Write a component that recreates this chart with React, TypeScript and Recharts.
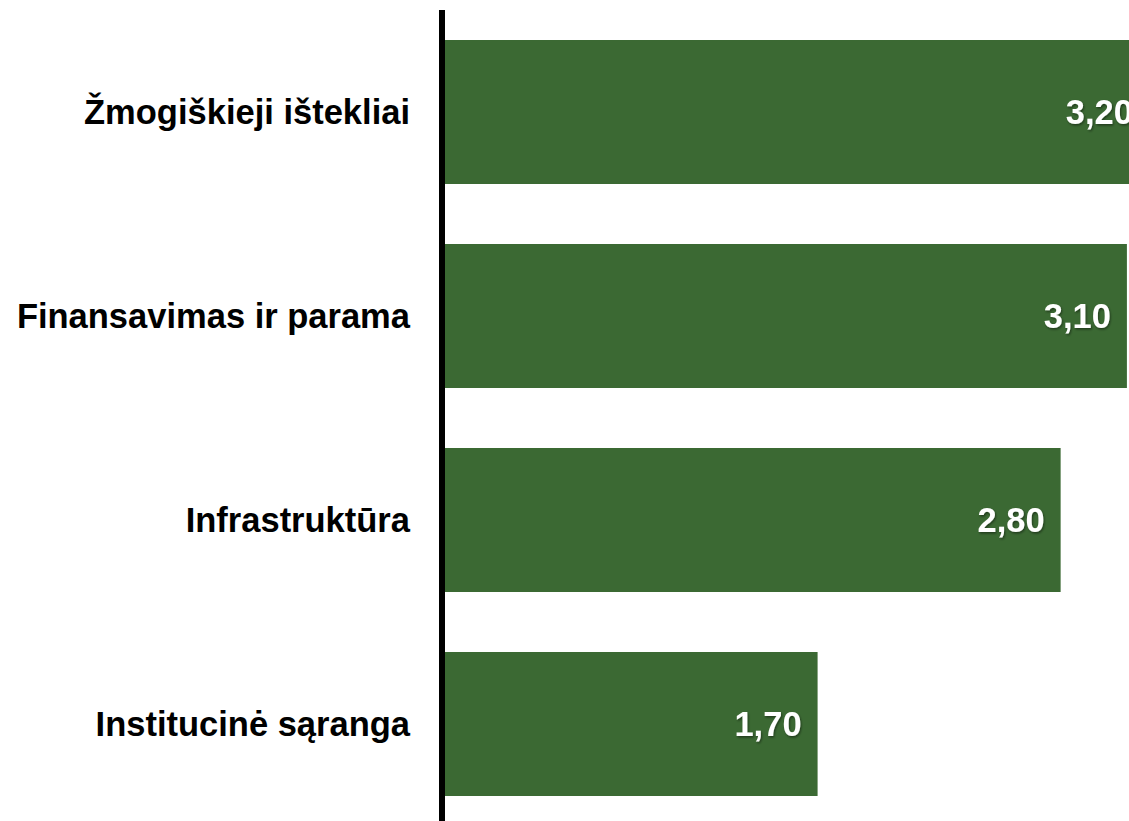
import React from 'react';
import { BarChart, Bar, XAxis, YAxis } from 'recharts';

const categories = [
  'Žmogiškieji ištekliai',
  'Finansavimas ir parama',
  'Infrastruktūra',
  'Institucinė sąranga',
];
const scores = [3.2, 3.1, 2.8, 1.7];

const data = categories.map((name, i) => ({ name, score: scores[i] }));

const FONT = '"Liberation Sans", Arial, Helvetica, sans-serif';
const GREEN = '#3b6933';

const ValueLabel = (props: any) => {
  const vb = props.viewBox ?? props;
  const { x, y, width, height } = vb;
  const value = Number(props.value);
  return (
    <text
      x={x + width - 16}
      y={y + height / 2}
      textAnchor="end"
      dominantBaseline="central"
      fill="#ffffff"
      fontSize={34.5}
      fontWeight="bold"
      fontFamily={FONT}
      filter="url(#labelShadow)"
    >
      {value.toFixed(2).replace('.', ',')}
    </text>
  );
};

const App: React.FC = () => {
  return (
    <div
      style={{
        position: 'absolute',
        left: 0,
        top: 0,
        width: 1129,
        height: 821,
        overflow: 'hidden',
        background: '#ffffff',
      }}
    >
      <BarChart
        width={1149}
        height={826}
        data={data}
        layout="vertical"
        margin={{ top: 10, right: 0, left: 0, bottom: 0 }}
      >
        <defs>
          <filter id="labelShadow" x="-20%" y="-20%" width="140%" height="140%">
            <feDropShadow dx="1" dy="1.5" stdDeviation="1" floodColor="#000000" floodOpacity={0.45} />
          </filter>
        </defs>
        <XAxis type="number" domain={[0, 3.2]} hide />
        <Bar
          dataKey="score"
          fill={GREEN}
          barSize={144}
          isAnimationActive={false}
          label={ValueLabel}
        />
        <YAxis
          type="category"
          dataKey="name"
          width={442}
          tickLine={false}
          tickSize={0}
          tickMargin={32}
          axisLine={{ stroke: '#000000', strokeWidth: 6 }}
          tick={{ fill: '#000000', fontSize: 34.5, fontWeight: 'bold', fontFamily: FONT }}
        />
      </BarChart>
    </div>
  );
};

export default App;
